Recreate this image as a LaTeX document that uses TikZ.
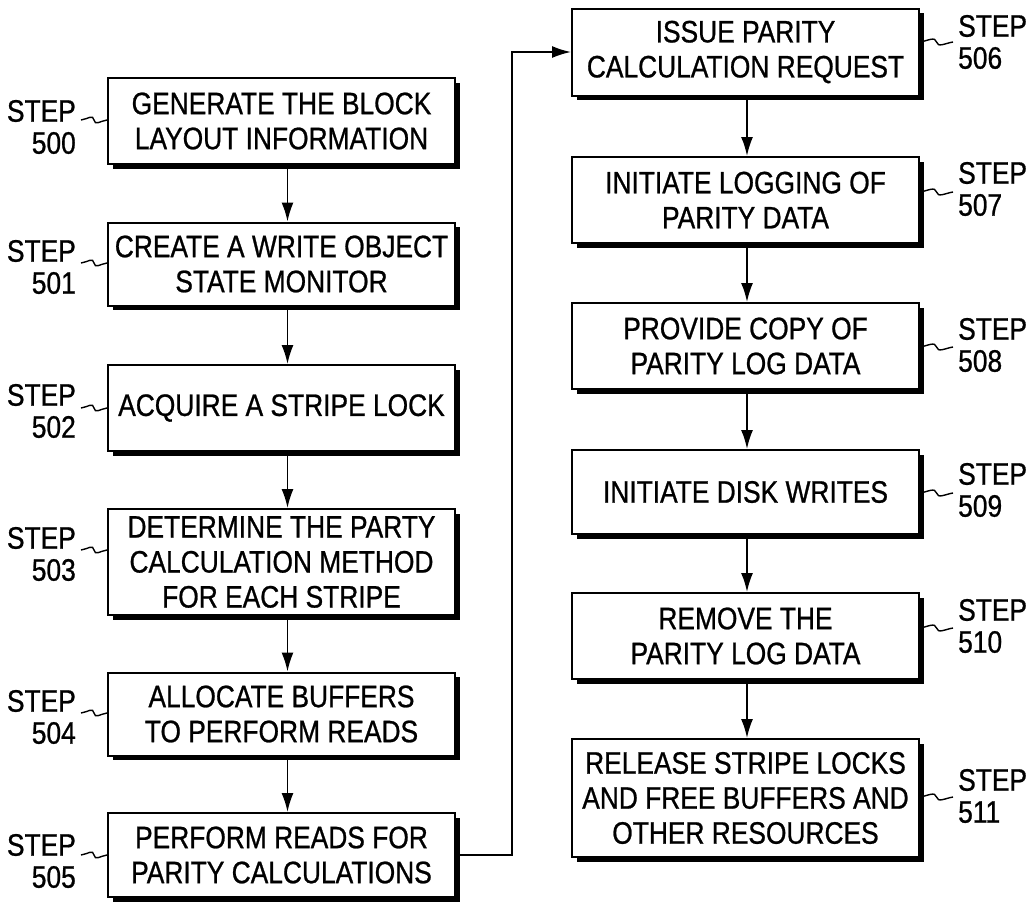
\documentclass[tikz,border=0pt]{standalone}
\usepackage{fontspec}
\setmainfont{Liberation Sans}[FakeStretch=0.85,FakeBold=0.8]
\usetikzlibrary{shadows,calc,arrows.meta}
\begin{document}
\begin{tikzpicture}[x=1pt,y=-1pt,
  box/.style={draw, line width=2pt, fill=white, minimum width=347pt, inner sep=0pt,
    align=center, font=\fontsize{31}{35}\selectfont,
    general shadow={fill=black, shadow xshift=4.5pt, shadow yshift=-4.5pt}},
  lblL/.style={inner sep=0pt, align=right, anchor=east, font=\fontsize{31}{32}\selectfont},
  lblR/.style={inner sep=0pt, align=left, anchor=west, font=\fontsize{31}{32}\selectfont},
  arr/.style={line width=1.8pt, -{Latex[length=19pt,width=12pt]}},
  lead/.style={line width=1.4pt},
  squig/.style={to path={.. controls ($(\tikztostart)+(7,-1)$) and ($(\tikztostart)!0.5!(\tikztotarget)+(-1,-6)$) .. ($(\tikztostart)!0.5!(\tikztotarget)$) .. controls ($(\tikztostart)!0.5!(\tikztotarget)+(1,6)$) and ($(\tikztotarget)+(-7,1)$) .. (\tikztotarget)}}
]
\useasboundingbox (0,0) rectangle (1033,903);

% left column
\node[box, minimum height=86pt] (s500) at (281.5,121) {GENERATE THE BLOCK\\LAYOUT INFORMATION};
\node[box, minimum height=83pt] (s501) at (281.5,264) {CREATE A WRITE OBJECT\\STATE MONITOR};
\node[box, minimum height=86pt] (s502) at (281.5,408) {ACQUIRE A STRIPE LOCK};
\node[box, minimum height=106pt] (s503) at (281.5,562) {DETERMINE THE PARTY\\CALCULATION METHOD\\FOR EACH STRIPE};
\node[box, minimum height=83pt] (s504) at (281.5,714) {ALLOCATE BUFFERS\\TO PERFORM READS};
\node[box, minimum height=84pt] (s505) at (281.5,855) {PERFORM READS FOR\\PARITY CALCULATIONS};

% right column
\node[box, minimum height=87pt] (s506) at (745.5,52) {ISSUE PARITY\\CALCULATION REQUEST};
\node[box, minimum height=86pt] (s507) at (745.5,200) {INITIATE LOGGING OF\\PARITY DATA};
\node[box, minimum height=86pt] (s508) at (745.5,346) {PROVIDE COPY OF\\PARITY LOG DATA};
\node[box, minimum height=84pt] (s509) at (745.5,492) {INITIATE DISK WRITES};
\node[box, minimum height=86pt] (s510) at (745.5,636) {REMOVE THE\\PARITY LOG DATA};
\node[box, minimum height=118pt] (s511) at (745.5,798) {RELEASE STRIPE LOCKS\\AND FREE BUFFERS AND\\OTHER RESOURCES};

% left labels
\node[lblL] (l500) at (76,127) {STEP\\500};
\node[lblL] (l501) at (76,267) {STEP\\501};
\node[lblL] (l502) at (76,411) {STEP\\502};
\node[lblL] (l503) at (76,554) {STEP\\503};
\node[lblL] (l504) at (76,717) {STEP\\504};
\node[lblL] (l505) at (76,861) {STEP\\505};

% right labels
\node[lblR] (l506) at (958,42) {STEP\\506};
\node[lblR] (l507) at (958,189) {STEP\\507};
\node[lblR] (l508) at (958,345) {STEP\\508};
\node[lblR] (l509) at (958,490) {STEP\\509};
\node[lblR] (l510) at (958,626) {STEP\\510};
\node[lblR] (l511) at (958,796) {STEP\\511};

% left leaders
\foreach \n/\y in {500/120,501/263,502/408,503/550,504/713,505/855}{
  \coordinate (qa\n) at (81,\y);
  \coordinate (qb\n) at (s\n.west |- qa\n);
  \draw[lead] (qa\n) to[squig] (qb\n);
}
% right leaders
\foreach \n/\y in {506/42,507/192,508/347,509/493,510/628,511/797}{
  \coordinate (qb\n) at (953,\y);
  \coordinate (qa\n) at (s\n.east |- qb\n);
  \draw[lead] (qa\n) to[squig] (qb\n);
}

% arrows left
\foreach \a/\b in {500/501,501/502,502/503,503/504,504/505}{
  \draw[arr] ([xshift=6pt,yshift=-3pt]s\a.south) -- ([xshift=6pt]s\b.north);
}
% arrows right
\foreach \a/\b in {506/507,507/508,508/509,509/510,510/511}{
  \draw[arr] ([xshift=1.5pt,yshift=-3pt]s\a.south) -- ([xshift=1.5pt]s\b.north);
}
% connector 505 -> 506
\coordinate (bend) at (512,0);
\draw[arr] (s505.east) -| (bend |- s506.west) -- (s506.west);
\end{tikzpicture}
\end{document}
